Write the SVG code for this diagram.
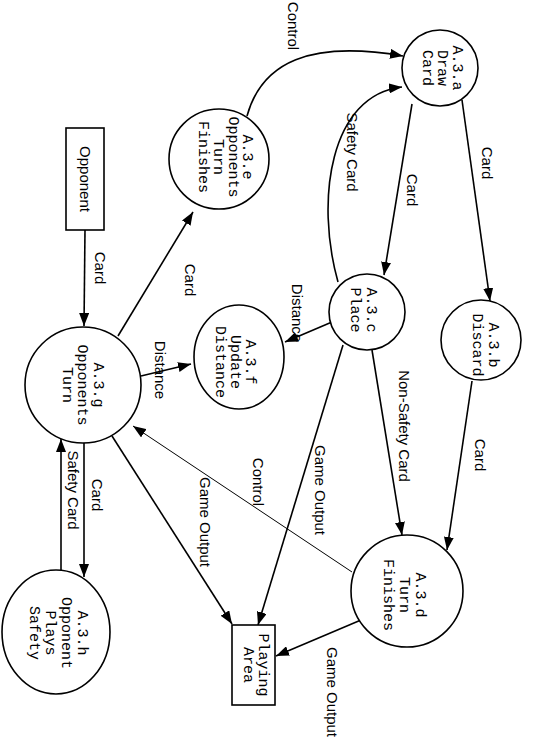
<svg xmlns="http://www.w3.org/2000/svg" width="539" height="740" viewBox="0 0 539 740">
<style>
.n{fill:#fff;stroke:#000;stroke-width:1.6}
.t{font-family:"Liberation Mono",monospace;font-size:15px;fill:#000;text-anchor:middle;dominant-baseline:central}
.s{font-family:"Liberation Sans",Arial,sans-serif;font-size:15px;fill:#000;text-anchor:middle;dominant-baseline:central}
.c{fill:none;stroke:#000;stroke-width:1.6;marker-end:url(#ah)}
.thin{stroke-width:1}
</style>
<defs>
<marker id="ah" markerUnits="userSpaceOnUse" markerWidth="14" markerHeight="10" refX="13" refY="5" orient="auto">
<path d="M0,0 L13,5 L0,10 z" fill="#000"/>
</marker>
</defs>
<rect width="539" height="740" fill="#fff"/>
<g id="connectors">
<path class="c" d="M85,230 L84,326"/>
<path class="c" d="M118,336 L193,212"/>
<path class="c" d="M141,376 L191,364"/>
<path class="c" d="M247,116 C262,62 310,40 403,56"/>
<path class="c" d="M338,282 C315,200 330,95 402,87"/>
<path class="c" d="M412,104 L384,275"/>
<path class="c" d="M462,100 L490,301"/>
<path class="c" d="M332,322 L285,342"/>
<path class="c" d="M372,350 L402,535"/>
<path class="c" d="M472,381 L447,550"/>
<path class="c" d="M343,345 L258,625"/>
<path class="c thin" d="M352,572 L133,426"/>
<path class="c" d="M112,436 L232,624"/>
<path class="c" d="M361,620 L276,656"/>
<path class="c" d="M84,443 L84,577"/>
<path class="c" d="M61,570 L61,439"/>
<text class="s" transform="translate(293,26) rotate(90)">Control</text>
<text class="s" transform="translate(100,268) rotate(90)">Card</text>
<text class="s" transform="translate(190,280) rotate(90)">Card</text>
<text class="s" transform="translate(160,370) rotate(90)">Distance</text>
<text class="s" transform="translate(352,152) rotate(90)">Safety Card</text>
<text class="s" transform="translate(412,190) rotate(90)">Card</text>
<text class="s" transform="translate(487,163) rotate(90)">Card</text>
<text class="s" transform="translate(297,313) rotate(90)">Distance</text>
<text class="s" transform="translate(404,426) rotate(90)">Non-Safety Card</text>
<text class="s" transform="translate(480,455) rotate(90)">Card</text>
<text class="s" transform="translate(320,490) rotate(90)">Game Output</text>
<text class="s" transform="translate(258,482) rotate(90)">Control</text>
<text class="s" transform="translate(205,522) rotate(90)">Game Output</text>
<text class="s" transform="translate(332,692) rotate(90)">Game Output</text>
<text class="s" transform="translate(97,495) rotate(90)">Card</text>
<text class="s" transform="translate(73,490) rotate(90)">Safety Card</text>
</g>
<g id="opponent">
<rect class="n" x="66" y="128" width="38" height="102"/>
<text class="s" transform="translate(85,179) rotate(90)">Opponent</text>
</g>
<g id="playing-area">
<rect class="n" x="232" y="625" width="43" height="80"/>
<text class="t" transform="translate(255,665) rotate(90)"><tspan x="0" y="-7.5">Playing</tspan><tspan x="0" y="7.5">Area</tspan></text>
</g>
<g id="a3a">
<circle class="n" cx="440" cy="68" r="38"/>
<text class="t" transform="translate(442,68) rotate(90)"><tspan x="0" y="-15">A.3.a</tspan><tspan x="0" y="0">Draw</tspan><tspan x="0" y="15">Card</tspan></text>
</g>
<g id="a3e">
<circle class="n" cx="219" cy="159" r="50"/>
<text class="t" transform="translate(225,157) rotate(90)"><tspan x="0" y="-22">A.3.e</tspan><tspan x="0" y="-7.5">Opponents</tspan><tspan x="0" y="7.5">Turn</tspan><tspan x="0" y="22">Finishes</tspan></text>
</g>
<g id="a3c">
<circle class="n" cx="367" cy="312" r="38"/>
<text class="t" transform="translate(363,310) rotate(90)"><tspan x="0" y="-8">A.3.c</tspan><tspan x="0" y="8">Place</tspan></text>
</g>
<g id="a3b">
<circle class="n" cx="481" cy="340" r="40"/>
<text class="t" transform="translate(485,345) rotate(90)"><tspan x="0" y="-8">A.3.b</tspan><tspan x="0" y="8">Discard</tspan></text>
</g>
<g id="a3f">
<ellipse class="n" cx="239" cy="357" rx="45" ry="52"/>
<text class="t" transform="translate(235,362) rotate(90)"><tspan x="0" y="-15">A.3.f</tspan><tspan x="0" y="0">Update</tspan><tspan x="0" y="15">Distance</tspan></text>
</g>
<g id="a3g">
<circle class="n" cx="83" cy="385" r="58"/>
<text class="t" transform="translate(82,385) rotate(90)"><tspan x="0" y="-15.5">A.3.g</tspan><tspan x="0" y="0">Opponents</tspan><tspan x="0" y="15.5">Turn</tspan></text>
</g>
<g id="a3h">
<ellipse class="n" cx="56" cy="632" rx="54" ry="62"/>
<text class="t" transform="translate(58,633) rotate(90)"><tspan x="0" y="-24">A.3.h</tspan><tspan x="0" y="-8">Opponent</tspan><tspan x="0" y="8">Plays</tspan><tspan x="0" y="24">Safety</tspan></text>
</g>
<g id="a3d">
<circle class="n" cx="407" cy="591" r="56"/>
<text class="t" transform="translate(404,595) rotate(90)"><tspan x="0" y="-16">A.3.d</tspan><tspan x="0" y="0">Turn</tspan><tspan x="0" y="16">Finishes</tspan></text>
</g>
</svg>
